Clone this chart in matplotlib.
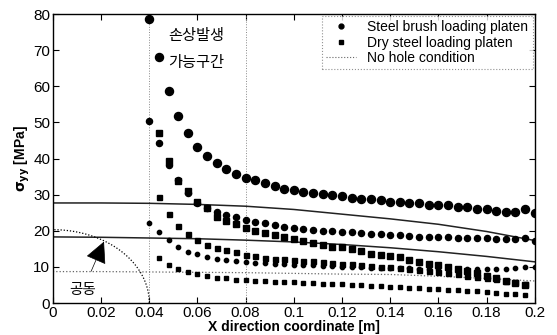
import matplotlib
matplotlib.use('Agg')
import matplotlib.pyplot as plt
import numpy as np

plt.rcParams['font.family'] = ['Liberation Sans', 'Noto Sans CJK KR', 'DejaVu Sans']

# x positions of the data points
x_dot = np.round(np.arange(0.040, 0.2001, 0.004), 3)   # 0.040 .. 0.200
x_sq = np.round(np.arange(0.044, 0.1961, 0.004), 3)    # 0.044 .. 0.196

# Steel brush loading platen (three load levels)
dot_big = [78.5, 68.2, 58.7, 51.8, 47.0, 43.3, 40.7, 38.7, 37.0, 35.6, 34.7,
           34.0, 33.1, 32.4, 31.7, 31.3, 30.8, 30.4, 30.1, 29.8, 29.6,
           29.2, 28.9, 28.7, 28.4, 28.1, 27.9, 27.8, 27.6, 27.2, 27.2,
           27.1, 26.6, 26.5, 26.1, 26.0, 25.6, 25.3, 25.3, 25.9, 24.8]
dot_mid = [50.5, 44.2, 38.2, 34.0, 30.5, 27.8, 26.3, 25.3, 24.4, 23.9, 23.0,
           22.5, 22.1, 21.6, 21.1, 20.8, 20.5, 20.2, 20.0, 19.8, 19.7,
           19.6, 19.3, 19.2, 19.1, 18.8, 18.7, 18.6, 18.4, 18.3, 18.3,
           18.2, 18.0, 18.0, 17.9, 17.9, 17.8, 17.6, 17.6, 18.0, 17.3]
dot_small = [22.1, 19.6, 17.4, 15.6, 14.2, 13.5, 12.8, 12.2, 11.9, 11.6, 11.4,
             11.2, 11.0, 10.8, 10.7, 10.6, 10.5, 10.4, 10.3, 10.2, 10.1,
             10.0, 9.9, 9.8, 9.7, 9.7, 9.6, 9.6, 9.5, 9.5, 9.5,
             9.4, 9.4, 9.4, 9.4, 9.4, 9.5, 9.5, 9.6, 9.9, 9.9]

# Dry steel loading platen (three load levels)
sq_big = [47.0, 39.3, 33.9, 31.0, 28.0, 26.2, 23.9, 22.8, 21.8, 20.7,
          20.0, 19.5, 18.8, 18.2, 17.6, 17.3, 16.5, 16.1, 15.6, 15.4,
          15.0, 14.5, 13.7, 13.4, 13.0, 12.6, 11.9, 11.4, 10.8, 10.5,
          9.9, 9.4, 8.9, 8.2, 7.5, 6.8, 6.2, 5.6, 5.0]
sq_mid = [29.4, 24.6, 21.4, 19.1, 17.4, 16.1, 15.3, 14.7, 14.0, 13.4,
          12.9, 12.5, 12.3, 12.1, 11.9, 11.7, 11.5, 11.3, 11.1, 10.9,
          10.7, 10.5, 10.3, 10.1, 9.9, 9.7, 9.4, 9.1, 8.8, 8.5,
          8.2, 7.9, 7.6, 7.3, 7.0, 6.6, 6.2, 5.8, 5.3]
sq_small = [12.4, 10.5, 9.3, 8.6, 8.0, 7.5, 7.0, 6.8, 6.5, 6.4,
            6.2, 6.0, 5.9, 5.8, 5.7, 5.6, 5.5, 5.4, 5.3, 5.2,
            5.1, 5.0, 4.8, 4.7, 4.5, 4.4, 4.2, 4.1, 3.9, 3.8,
            3.7, 3.6, 3.4, 3.2, 3.0, 2.8, 2.6, 2.4, 2.2]

# No hole condition
x_line = [0.0, 0.02, 0.04, 0.06, 0.08, 0.10, 0.12, 0.14, 0.16, 0.18, 0.20]
line_1 = [27.7, 27.7, 27.6, 27.3, 26.8, 25.9, 24.6, 23.3, 21.8, 19.8, 17.3]
line_2 = [18.3, 18.2, 18.0, 17.8, 17.4, 16.9, 16.2, 15.3, 14.2, 12.9, 11.4]
line_3 = [8.7, 8.7, 8.6, 8.5, 8.4, 8.2, 8.0, 7.9, 7.4, 6.8, 6.1]

hole_r = 0.04      # hole radius [m]
hole_top = 20.3    # arc height on the stress axis
zone_end = 0.08

fig = plt.figure(figsize=(5.57, 3.35), dpi=100)
ax = fig.add_axes([0.095, 0.0955, 0.865, 0.8625])

ax.axvline(hole_r, color='#888888', lw=0.7, ls=':')
ax.axvline(zone_end, color='#888888', lw=0.7, ls=':')

ax.plot(x_line, line_1, color='#222222', lw=1.1)
ax.plot(x_line, line_2, color='#222222', lw=1.1)
ax.plot(x_line, line_3, color='#666666', lw=0.9, ls=':', label='No hole condition')

ax.plot(x_dot, dot_big, 'o', color='k', ms=5.8, mec='k')
ax.plot(x_dot, dot_mid, 'o', color='k', ms=4.4, mec='k')
ax.plot(x_dot, dot_small, 'o', color='k', ms=3.1, mec='k')
ax.plot(x_sq, sq_big, 's', color='k', ms=4.8, mec='k')
ax.plot(x_sq, sq_mid, 's', color='k', ms=3.6, mec='k')
ax.plot(x_sq, sq_small, 's', color='k', ms=2.7, mec='k')

# hole outline
t = np.linspace(0, np.pi / 2, 60)
ax.plot(hole_r * np.cos(t), hole_top * np.sin(t), color='k', lw=0.9, ls=(0, (1, 1.5)))

ax.annotate('공동', xy=(0.0212, 17.0), xytext=(0.0125, 3.6),
            fontsize=10.5, ha='center', va='center', family=['Noto Sans CJK KR'],
            arrowprops=dict(arrowstyle='-|>,head_length=1.3,head_width=0.65',
                            color='k', lw=0.5, shrinkA=7, shrinkB=0))

ax.text(0.0595, 74.2, '손상발생', fontsize=11, ha='center', va='center',
        family=['Noto Sans CJK KR'])
ax.text(0.0595, 66.5, '가능구간', fontsize=11, ha='center', va='center',
        family=['Noto Sans CJK KR'])

ax.set_xlim(0, 0.2)
ax.set_ylim(0, 80)
ax.set_xticks([0, 0.02, 0.04, 0.06, 0.08, 0.1, 0.12, 0.14, 0.16, 0.18, 0.2])
ax.set_xticklabels(['0', '0.02', '0.04', '0.06', '0.08', '0.1', '0.12',
                    '0.14', '0.16', '0.18', '0.2'])
ax.set_yticks(range(0, 81, 10))
ax.tick_params(direction='in', top=True, right=True, length=4, width=0.8,
               labelsize=11, pad=2)
for s in ax.spines.values():
    s.set_linewidth(1.0)

ax.set_xlabel('X direction coordinate [m]', fontsize=10, fontweight='bold', labelpad=0)
ax.set_ylabel(r'$\mathbf{\sigma_{yy}}$ [MPa]', fontsize=10, fontweight='bold', labelpad=1)

from matplotlib.lines import Line2D
handles = [Line2D([], [], marker='o', ls='', color='k', ms=3.5),
           Line2D([], [], marker='s', ls='', color='k', ms=2.8),
           Line2D([], [], color='#666666', lw=0.8, ls=':')]
leg = ax.legend(handles, ['Steel brush loading platen', 'Dry steel loading platen',
                          'No hole condition'],
                loc='upper right', fontsize=10, frameon=True, fancybox=False,
                borderaxespad=0.15, handlelength=2.2, labelspacing=0.1,
                borderpad=0.3, handletextpad=0.8)
leg.get_frame().set_edgecolor('#777777')
leg.get_frame().set_linestyle(':')
leg.get_frame().set_linewidth(0.8)

plt.savefig('out.png', dpi=100)
